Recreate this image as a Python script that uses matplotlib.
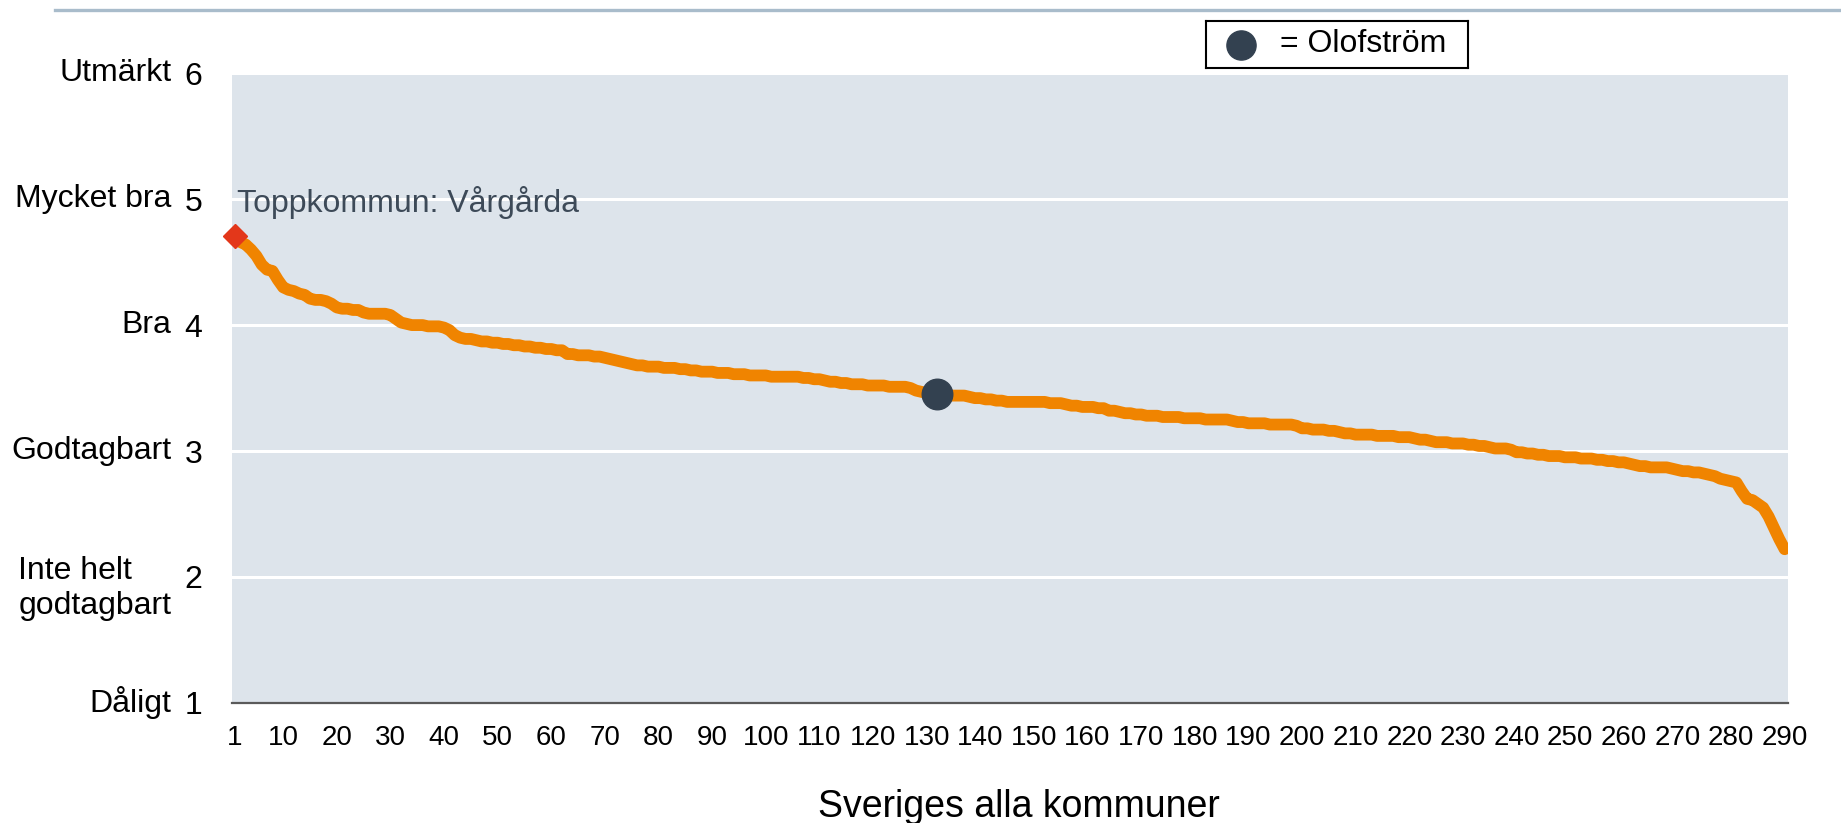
import numpy as np
import matplotlib.pyplot as plt
from matplotlib.lines import Line2D

plt.rcParams['font.family'] = ['Liberation Sans', 'DejaVu Sans']

# betyg per kommun, sorterat fallande (rang 1..290)
scores = [
    4.71, 4.66, 4.64, 4.60, 4.55, 4.48, 4.44, 4.43, 4.36, 4.30,
    4.28, 4.27, 4.25, 4.24, 4.21, 4.20, 4.20, 4.19, 4.17, 4.14,
    4.13, 4.13, 4.12, 4.12, 4.10, 4.09, 4.09, 4.09, 4.09, 4.08,
    4.05, 4.02, 4.01, 4.00, 4.00, 4.00, 3.99, 3.99, 3.99, 3.98,
    3.96, 3.92, 3.90, 3.89, 3.89, 3.88, 3.87, 3.87, 3.86, 3.86,
    3.85, 3.85, 3.84, 3.84, 3.83, 3.83, 3.82, 3.82, 3.81, 3.81,
    3.80, 3.80, 3.77, 3.77, 3.76, 3.76, 3.76, 3.75, 3.75, 3.74,
    3.73, 3.72, 3.71, 3.70, 3.69, 3.68, 3.68, 3.67, 3.67, 3.67,
    3.66, 3.66, 3.66, 3.65, 3.65, 3.64, 3.64, 3.63, 3.63, 3.63,
    3.62, 3.62, 3.62, 3.61, 3.61, 3.61, 3.60, 3.60, 3.60, 3.60,
    3.59, 3.59, 3.59, 3.59, 3.59, 3.59, 3.58, 3.58, 3.57, 3.57,
    3.56, 3.55, 3.55, 3.54, 3.54, 3.53, 3.53, 3.53, 3.52, 3.52,
    3.52, 3.52, 3.51, 3.51, 3.51, 3.51, 3.50, 3.48, 3.47, 3.46,
    3.46, 3.45, 3.45, 3.44, 3.44, 3.44, 3.44, 3.43, 3.42, 3.42,
    3.41, 3.41, 3.40, 3.40, 3.39, 3.39, 3.39, 3.39, 3.39, 3.39,
    3.39, 3.39, 3.38, 3.38, 3.38, 3.37, 3.36, 3.36, 3.35, 3.35,
    3.35, 3.34, 3.34, 3.32, 3.32, 3.31, 3.30, 3.30, 3.29, 3.29,
    3.28, 3.28, 3.28, 3.27, 3.27, 3.27, 3.27, 3.26, 3.26, 3.26,
    3.26, 3.25, 3.25, 3.25, 3.25, 3.25, 3.24, 3.23, 3.23, 3.22,
    3.22, 3.22, 3.22, 3.21, 3.21, 3.21, 3.21, 3.21, 3.20, 3.18,
    3.18, 3.17, 3.17, 3.17, 3.16, 3.16, 3.15, 3.14, 3.14, 3.13,
    3.13, 3.13, 3.13, 3.12, 3.12, 3.12, 3.12, 3.11, 3.11, 3.11,
    3.10, 3.09, 3.09, 3.08, 3.07, 3.07, 3.07, 3.06, 3.06, 3.06,
    3.05, 3.05, 3.04, 3.04, 3.03, 3.02, 3.02, 3.02, 3.01, 2.99,
    2.99, 2.98, 2.98, 2.97, 2.97, 2.96, 2.96, 2.96, 2.95, 2.95,
    2.95, 2.94, 2.94, 2.94, 2.93, 2.93, 2.92, 2.92, 2.91, 2.91,
    2.90, 2.89, 2.88, 2.88, 2.87, 2.87, 2.87, 2.87, 2.86, 2.85,
    2.84, 2.84, 2.83, 2.83, 2.82, 2.81, 2.80, 2.78, 2.77, 2.76,
    2.75, 2.68, 2.62, 2.61, 2.58, 2.55, 2.48, 2.39, 2.30, 2.22,
]
ranks = np.arange(1, len(scores) + 1)

top_rank = 1
top_score = 4.71
top_name = "Vårgårda"

olof_rank = 132
olof_score = 3.45
olof_name = "Olofström"

x_ticks = [1, 10, 20, 30, 40, 50, 60, 70, 80, 90, 100, 110, 120, 130, 140,
           150, 160, 170, 180, 190, 200, 210, 220, 230, 240, 250, 260, 270,
           280, 290]
y_ticks = [1, 2, 3, 4, 5, 6]
y_names = ["Dåligt", "Inte helt\ngodtagbart", "Godtagbart", "Bra",
           "Mycket bra", "Utmärkt"]

orange = '#f08400'
dark = '#334150'

fig = plt.figure(figsize=(18.41, 8.23), dpi=100)
ax = fig.add_axes([0.126, 0.146, 0.845, 0.765])
ax.set_facecolor('#dde4eb')

ax.plot(ranks, scores, color=orange, lw=8.5, solid_capstyle='round',
        solid_joinstyle='round', zorder=3)
ax.plot(top_rank, top_score, marker='D', ms=12, color='#e3371a',
        ls='none', zorder=4, clip_on=False)
ax.plot(olof_rank, olof_score, marker='o', ms=22, color=dark,
        ls='none', zorder=5)

ax.text(top_rank + 0.3, 4.97, "Toppkommun: " + top_name, fontsize=23,
        color='#3d4a58', va='center', ha='left', zorder=6)

ax.set_xlim(0.45, 290.55)
ax.set_ylim(1, 6)
ax.set_xticks(x_ticks)
ax.set_yticks(y_ticks)
ax.tick_params(axis='x', length=0, pad=16, labelsize=20)
ax.tick_params(axis='y', length=0, pad=21.5, labelsize=23)
ax.grid(axis='y', color='white', lw=2.2, zorder=1)
ax.set_axisbelow(True)

for s in ['top', 'right', 'left']:
    ax.spines[s].set_visible(False)
ax.spines['bottom'].set_color('#5a5a5a')
ax.spines['bottom'].set_linewidth(1.6)

for val, name in zip(y_ticks, y_names):
    yy = val - 0.09 if '\n' in name else val
    ax.text(-0.039, yy, name, transform=ax.get_yaxis_transform(),
            ha='right', va='center', multialignment='left', fontsize=23,
            linespacing=1.2)

ax.set_xlabel("Sveriges alla kommuner", fontsize=27)
ax.xaxis.set_label_coords(0.506, -0.137)

# linje överst
fig.add_artist(Line2D([0.030, 1.0], [0.9875, 0.9875], color='#a9bccb', lw=2.4))

# legend-ruta
leg_ax = fig.add_axes([1206 / 1841, 1 - 68 / 823, 262 / 1841, 47 / 823])
leg_ax.set_xlim(0, 1)
leg_ax.set_ylim(0, 1)
leg_ax.set_xticks([])
leg_ax.set_yticks([])
for s in leg_ax.spines.values():
    s.set_linewidth(1.5)
    s.set_color('black')
leg_ax.plot(0.134, 0.5, marker='o', ms=21, color=dark, ls='none')
leg_ax.text(0.283, 0.5, "= " + olof_name, fontsize=23, va='center', ha='left')

fig.savefig('out.png', dpi=100)
